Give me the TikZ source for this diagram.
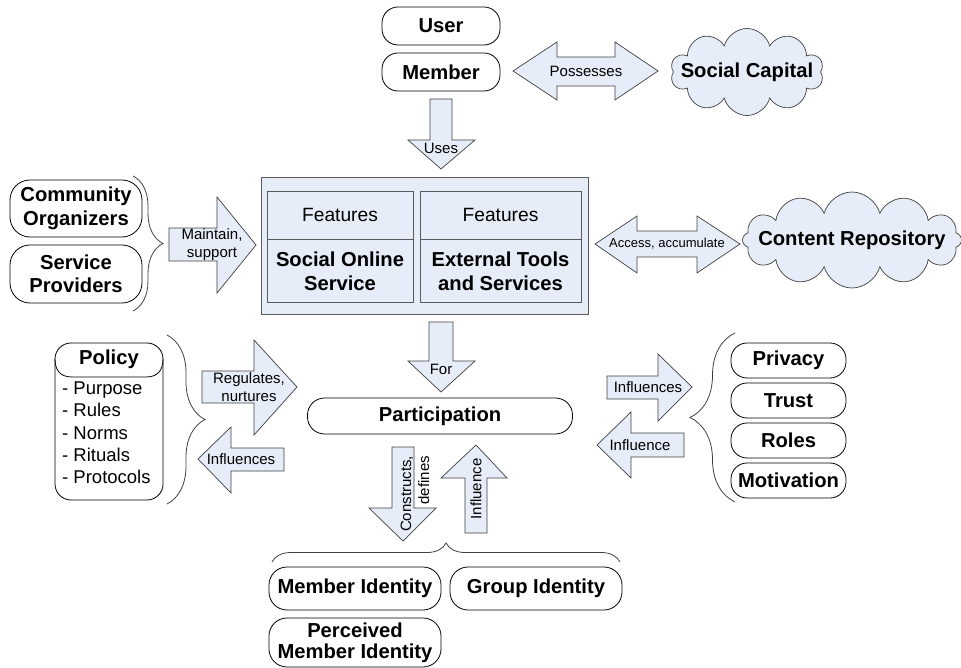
\documentclass[tikz,border=0pt]{standalone}
\usepackage{fontspec}
\setmainfont{Liberation Sans}
\usetikzlibrary{shapes.symbols,decorations.pathreplacing}
\definecolor{panefill}{RGB}{230,236,248}
\definecolor{edgegray}{RGB}{64,64,64}
\definecolor{boxgray}{RGB}{90,90,90}

\begin{document}
\begin{tikzpicture}[x=1pt,y=-1pt,
  pillbox/.style={draw=black, line width=0.8pt, rounded corners=16pt, inner sep=0pt,
    font=\fontsize{20.2}{23.5}\selectfont\bfseries, align=center},
  blockarrow/.style={draw=edgegray, fill=panefill, line width=0.7pt, line join=miter},
  lbl/.style={inner sep=0pt, font=\fontsize{15}{18}\selectfont, align=center},
  boldtxt/.style={inner sep=0pt, font=\fontsize{20.2}{24}\selectfont\bfseries, align=center},
  feat/.style={inner sep=0pt, font=\fontsize{19.2}{24}\selectfont},
  pane/.style={draw=boxgray, fill=panefill, line width=0.7pt},
  bracestyle/.style={draw=edgegray, line width=0.8pt, decorate},
  puffs/.style={cloud, cloud ignores aspect, draw=edgegray, fill=panefill, line width=0.7pt, inner sep=0pt}
]
\useasboundingbox (0,0) rectangle (961,668);

% ---------- top: user / member and social capital ----------
\node[pillbox, minimum width=118pt, minimum height=38pt] (user) at (441,26) {User};
\node[pillbox, minimum width=118pt, minimum height=38pt] (member) at (441,72) {Member};

\node[puffs, cloud puffs=10, minimum width=153pt, minimum height=87pt] (capcloud) at (747,72) {};
\node[boldtxt] (capital) at (capcloud.center) {Social Capital};

% double arrow: possesses
\draw[blockarrow] (513,71) -- (557,42) -- (557,57) -- (615,57) -- (615,42) -- (658,71)
  -- (615,100) -- (615,86) -- (557,86) -- (557,100) -- cycle;
\node[lbl] (possesses) at (586,71) {Possesses};

% down arrow: uses
\draw[blockarrow] (430,99) -- (452,99) -- (452,140) -- (475,140) -- (441,169)
  -- (408,140) -- (430,140) -- cycle;
\node[lbl] (uses) at (441,148) {Uses};

% ---------- central service panel ----------
\draw[pane] (261,177) rectangle (588,314);
\draw[pane] (267,191) rectangle (413,302);
\draw[boxgray, line width=0.7pt] (267,239) -- (413,239);
\draw[pane] (420,191) rectangle (581,302);
\draw[boxgray, line width=0.7pt] (420,239) -- (581,239);
\node[feat] (featl) at (340,215) {Features};
\node[feat] (featr) at (500.5,215) {Features};
\node[boldtxt] (sos) at (340,271) {Social Online\\Service};
\node[boldtxt] (ets) at (500.5,271) {External Tools\\and Services};

% ---------- left: organizers and providers ----------
\node[pillbox, rounded corners=20pt, minimum width=132pt, minimum height=57pt] (organizers) at (76,208.5) {Community\\Organizers};
\node[pillbox, rounded corners=20pt, minimum width=132pt, minimum height=58pt] (providers) at (76,274) {Service\\Providers};
\draw[bracestyle, decoration={brace, amplitude=30pt}] (133,176) -- (133,311);

\draw[blockarrow] (169,228) -- (217,228) -- (217,197) -- (256,245) -- (217,293)
  -- (217,261) -- (169,261) -- cycle;
\node[lbl] (maintain) at (212,245) {Maintain,\\support};

% ---------- right: content repository ----------
\draw[blockarrow] (595,244) -- (637,216) -- (637,231) -- (697,231) -- (697,216) -- (740,244)
  -- (697,273) -- (697,257) -- (637,257) -- (637,273) -- cycle;
\node[lbl, font=\fontsize{13}{16}\selectfont] (access) at (667,244) {Access, accumulate};

\node[puffs, cloud puffs=12, minimum width=219pt, minimum height=96pt] (repocloud) at (852,240) {};
\node[boldtxt] (repository) at (repocloud.center) {Content Repository};

% down arrow: for
\draw[blockarrow] (429,322) -- (453,322) -- (453,361) -- (475,361) -- (441,392)
  -- (408,361) -- (429,361) -- cycle;
\node[lbl] (for) at (441,369) {For};

% ---------- participation ----------
\node[pillbox, rounded corners=17pt, minimum width=265pt, minimum height=36pt] (participation) at (440,416) {Participation};

% ---------- left: policy ----------
\node[draw=black, line width=0.8pt, rounded corners=16pt, minimum width=108pt, minimum height=157pt, inner sep=0pt] (policybox) at (109,421.5) {};
\draw[black, line width=0.8pt] (55,359) .. controls (55,370) and (60,377) .. (72,377)
  -- (146,377) .. controls (158,377) and (163,370) .. (163,359);
\node[boldtxt] (policy) at (109,359) {Policy};
\node[inner sep=0pt, anchor=west, align=left, font=\fontsize{18.5}{22.3}\selectfont] (policyitems) at (62,433)
  {- Purpose\\- Rules\\- Norms\\- Rituals\\- Protocols};
\draw[bracestyle, decoration={brace, amplitude=38pt}] (167,335) -- (167,504);

\draw[blockarrow] (202,371) -- (254,371) -- (254,340) -- (297,387) -- (254,435)
  -- (254,403) -- (202,403) -- cycle;
\node[lbl] (regulates) at (249,387) {Regulates,\\nurtures};

\draw[blockarrow] (198,459) -- (231,427) -- (231,448) -- (284,448) -- (284,471)
  -- (231,471) -- (231,493) -- cycle;
\node[lbl] (influencesl) at (241,459) {Influences};

% ---------- right: privacy, trust, roles, motivation ----------
\node[pillbox, minimum width=115pt, minimum height=35pt] (privacy) at (788.5,360.5) {Privacy};
\node[pillbox, minimum width=115pt, minimum height=35pt] (trust) at (788.5,400.5) {Trust};
\node[pillbox, minimum width=115pt, minimum height=35pt] (roles) at (788.5,440.5) {Roles};
\node[pillbox, minimum width=115pt, minimum height=35pt] (motivation) at (788.5,480.5) {Motivation};
\draw[bracestyle, decoration={brace, amplitude=45pt}] (735,502) -- (735,333);

\draw[blockarrow] (607,376) -- (658,376) -- (658,354) -- (692,387) -- (658,421)
  -- (658,399) -- (607,399) -- cycle;
\node[lbl] (influencesr) at (648,387) {Influences};

\draw[blockarrow] (597,445) -- (631,412) -- (631,433) -- (684,433) -- (684,457)
  -- (631,457) -- (631,478) -- cycle;
\node[lbl] (influencer) at (640,445) {Influence};

% ---------- bottom: identities ----------
\draw[blockarrow] (392,447) -- (414,447) -- (414,508) -- (436,508) -- (403,541)
  -- (369,508) -- (392,508) -- cycle;
\node[lbl, rotate=90, align=right] (constructs) at (415,494) {Constructs,\\defines};

\draw[blockarrow] (476,445) -- (507,478) -- (487,478) -- (487,533) -- (465,533)
  -- (465,478) -- (441,478) -- cycle;
\node[lbl, rotate=90] (influenceb) at (476,489) {Influence};

\draw[bracestyle, decoration={brace, amplitude=19pt}] (272,562) -- (620,562);

\node[pillbox, rounded corners=18pt, minimum width=172pt, minimum height=43pt] (memberid) at (355,588.5) {Member Identity};
\node[pillbox, rounded corners=18pt, minimum width=172pt, minimum height=43pt] (groupid) at (536,588.5) {Group Identity};
\node[pillbox, rounded corners=18pt, minimum width=172pt, minimum height=49pt, font=\fontsize{20.2}{21}\selectfont\bfseries] (perceivedid) at (355,642.5) {Perceived\\Member Identity};
\end{tikzpicture}
\end{document}
